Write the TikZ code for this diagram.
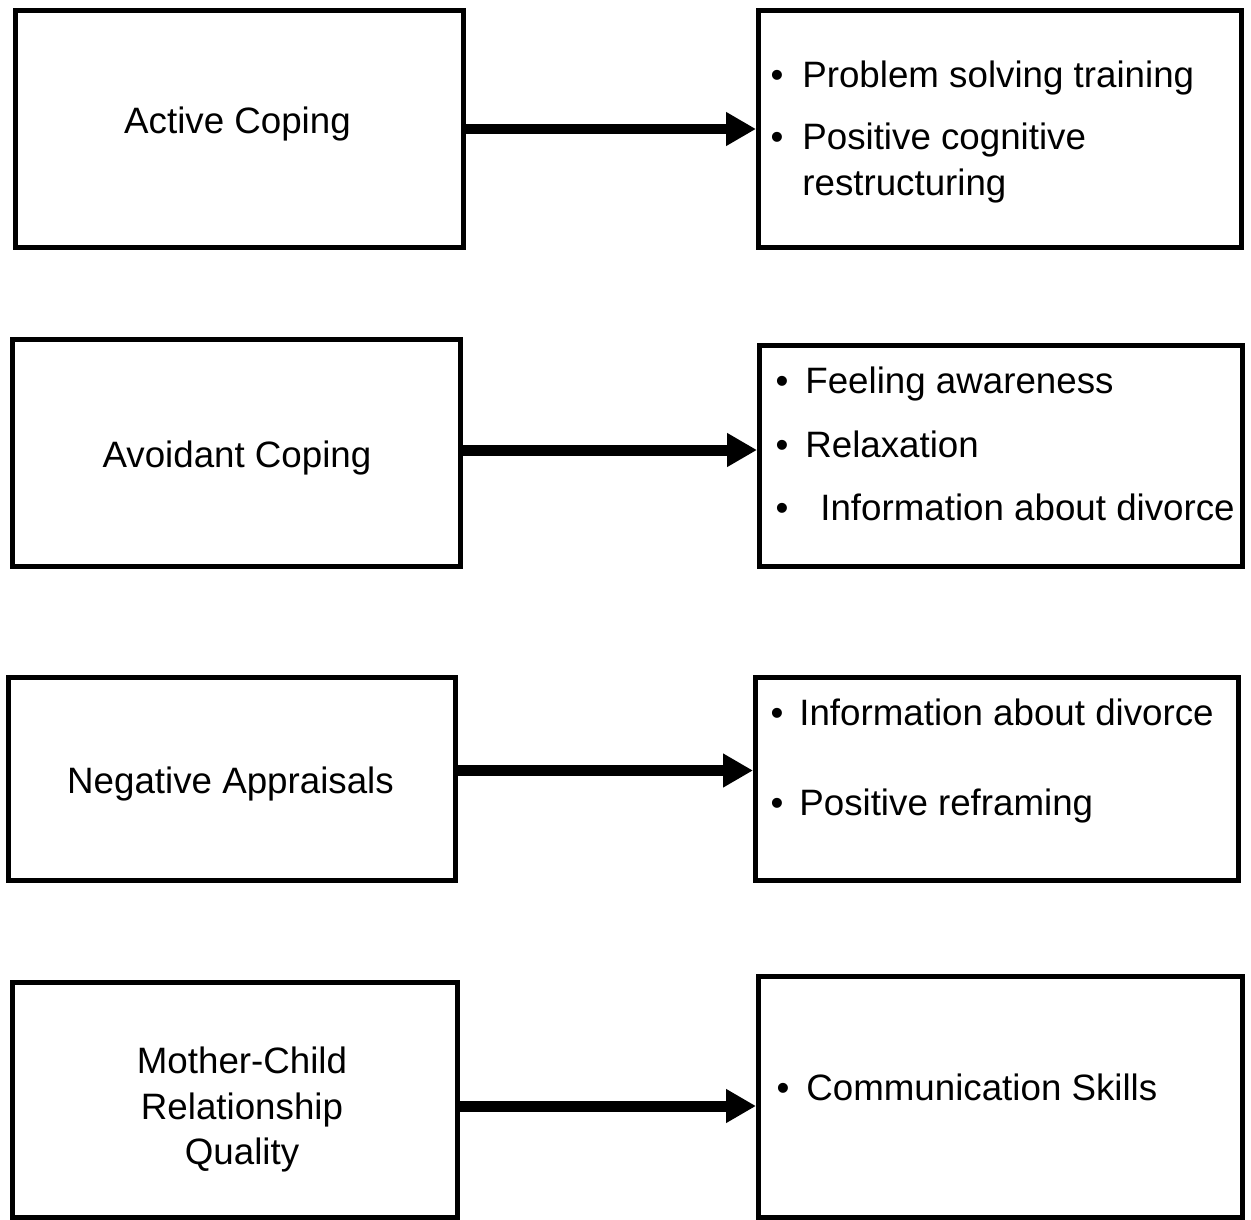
\documentclass[tikz,border=0pt]{standalone}
\usepackage{fontspec}
\setmainfont{Liberation Sans}
\usetikzlibrary{arrows.meta}

\tikzset{
  panel/.style 2 args={draw,line width=2.85pt,minimum width=#1*0.02cm,minimum height=#2*0.02cm,inner sep=0pt},
  boxlbl/.style={font=\fontsize{20.9pt}{25pt}\selectfont,inner sep=0pt,anchor=base},
  itemtxt/.style={boxlbl,anchor=base west},
  flow/.style={line width=6.26pt,-{Triangle[length=0.6cm,width=0.64cm]}}
}

\begin{document}
\begin{tikzpicture}[x=0.02cm,y=-0.02cm]
  \useasboundingbox (0,0) rectangle (1251,1220);
  % left column: factors
  \foreach \nm/\x/\y/\w/\h in {active/239.5/129/448/237,avoidant/236.5/453/448/227,
    negative/232/779/447/203,mother/235/1100/445/235}
    \node[panel={\w}{\h}] (\nm) at (\x,\y) {};
  % right column: program parts
  \foreach \nm/\x/\y/\w/\h in {activeTips/1000/129/483/237,avoidantTips/1001/456/483/221,
    negativeTips/997/779/483/203,motherTips/1000.5/1097/484/241}
    \node[panel={\w}{\h}] (\nm) at (\x,\y) {};

  \node[boxlbl] (activeLbl) at (237.5,133) {Active Coping};
  \node[boxlbl] (avoidantLbl) at (237,467) {Avoidant Coping};
  \node[boxlbl] (negativeLbl) at (230.5,793) {Negative Appraisals};
  \node[boxlbl] (motherLbl) at (242,1073) {Mother-Child};
  \node[boxlbl] (motherLblB) at (242,1119) {Relationship};
  \node[boxlbl] (motherLblC) at (242,1164) {Quality};

  % bullet items
  \foreach \nm/\bx/\x/\y/\txt in {solving/777/802/88/Problem solving training,
    restruct/777/802/150/Positive cognitive,
    feeling/782/805/393/Feeling awareness,
    relax/782/805/457/Relaxation,
    infoA/782/820/520/Information about divorce,
    infoB/777/799/725/Information about divorce,
    reframe/777/799/815/Positive reframing,
    commun/783/806/1100/Communication Skills}{
    \node[itemtxt] (\nm) at (\x,\y) {\txt};
    \node[boxlbl] (\nm Dot) at (\bx,\y) {\textbullet};
  }
  \node[itemtxt] (restructB) at (802,195) {restructuring};

  \draw[flow] (active.east |- 0,129) -- (activeTips.west |- 0,129);
  \draw[flow] (avoidant.east |- 0,450) -- (avoidantTips.west |- 0,450);
  \draw[flow] (negative.east |- 0,770.5) -- (negativeTips.west |- 0,770.5);
  \draw[flow] (mother.east |- 0,1106) -- (motherTips.west |- 0,1106);
\end{tikzpicture}
\end{document}
